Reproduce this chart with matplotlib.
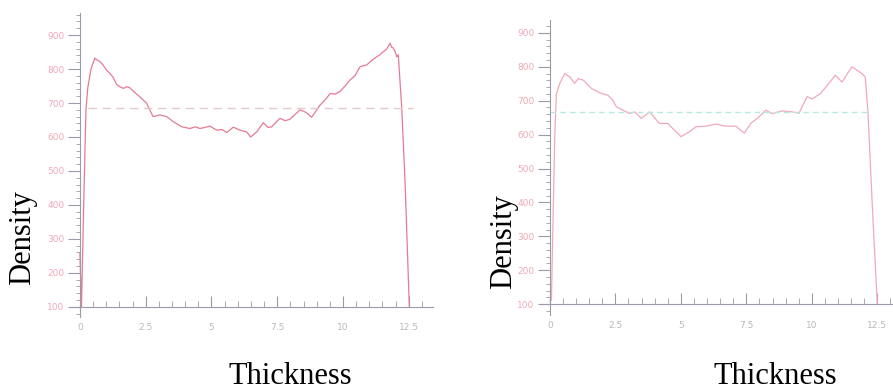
import matplotlib
matplotlib.use("Agg")
import matplotlib.pyplot as plt
from matplotlib.ticker import MultipleLocator

# left profile (thickness, density)
left_x = [0.0, 0.06, 0.15, 0.23, 0.3, 0.42, 0.57, 0.66, 0.76, 0.88, 1.01, 1.13, 1.26, 1.39, 1.52, 1.65,
          1.78, 1.9, 2.05, 2.28, 2.53, 2.78, 3.04, 3.29, 3.55, 3.87, 4.18, 4.4, 4.56, 4.75, 4.94, 5.2,
          5.4, 5.58, 5.83, 6.08, 6.34, 6.49, 6.72, 6.97, 7.15, 7.29, 7.6, 7.8, 7.98, 8.2, 8.37, 8.6,
          8.81, 9.13, 9.35, 9.51, 9.7, 9.89, 10.1, 10.27, 10.45, 10.65, 10.9, 11.1, 11.28, 11.4, 11.53,
          11.65, 11.79, 11.85, 11.91, 11.98, 12.04, 12.1, 12.23, 12.36, 12.52]
left_y = [260, 100, 420, 680, 745, 800, 832, 826, 822, 812, 797, 788, 776, 755, 748, 743,
          748, 745, 733, 718, 700, 660, 665, 660, 645, 630, 625, 630, 625, 628, 632, 620,
          622, 613, 629, 620, 615, 600, 615, 642, 628, 630, 655, 648, 652, 668, 680, 672,
          658, 694, 712, 728, 726, 734, 752, 768, 780, 807, 812, 826, 836, 842, 851,
          858, 876, 864, 862, 852, 836, 842, 688, 465, 100]
left_mean = 685

# right profile (thickness, density)
right_x = [0.0, 0.06, 0.19, 0.25, 0.38, 0.57, 0.66, 0.76, 0.95, 1.08, 1.27, 1.59, 1.91, 2.22, 2.4,
           2.54, 2.79, 3.05, 3.24, 3.49, 3.81, 4.18, 4.5, 4.82, 5.01, 5.32, 5.58, 5.96, 6.34,
           6.72, 7.1, 7.42, 7.67, 7.98, 8.24, 8.49, 8.87, 9.25, 9.51, 9.82, 10.01, 10.33, 10.65,
           10.9, 11.15, 11.53, 11.72, 11.91, 12.04, 12.14, 12.3, 12.5]
right_y = [110, 112, 604, 721, 751, 780, 775, 770, 751, 765, 761, 736, 723, 716, 702,
           682, 672, 662, 667, 648, 667, 633, 633, 608, 594, 608, 623, 625, 631,
           625, 625, 604, 633, 652, 672, 662, 670, 667, 663, 712, 705, 721, 751,
           775, 755, 800, 790, 780, 770, 672, 407, 100]
right_mean = 666

x_ticks = [0, 2.5, 5, 7.5, 10, 12.5]
x_ticklabels = ["0", "2.5", "5", "7.5", "10", "12.5"]
y_ticks = [100, 200, 300, 400, 500, 600, 700, 800, 900]

fig = plt.figure(figsize=(8.93, 3.9), dpi=100)

label_col = "#f2a8b8"
axis_col = "#9a9aaa"

panels = [
    # axes rect, xlim, ylim, x, y, mean, line colour, mean colour, mean span, dash
    ([72 / 893, 73 / 390, 361 / 893, 304 / 390], (-0.3, 13.42), (70, 965),
     left_x, left_y, left_mean, "#e77a93", "#e6c8cf", (0.3, 12.67), (0, (6, 4))),
    ([542 / 893, 75 / 390, 351 / 893, 295 / 390], (-0.3, 13.1), (68, 938),
     right_x, right_y, right_mean, "#f1a9b9", "#b4eae2", (0.0, 12.2), (0, (4, 3))),
]

for rect, xl, yl, xs, ys, mean, lc, mc, span, ls in panels:
    ax = fig.add_axes(rect)
    ax.plot(xs, ys, color=lc, lw=0.9)
    ax.plot(list(span), [mean, mean], color=mc, lw=1.0, linestyle=ls)
    ax.set_xlim(*xl)
    ax.set_ylim(*yl)
    for s in ["top", "right"]:
        ax.spines[s].set_visible(False)
    ax.spines["left"].set_position(("data", 0))
    ax.spines["bottom"].set_position(("data", 100))
    ax.spines["left"].set_color(axis_col)
    ax.spines["bottom"].set_color(axis_col)
    ax.set_xticks(x_ticks)
    ax.set_xticklabels(x_ticklabels)
    ax.set_yticks(y_ticks)
    ax.xaxis.set_minor_locator(MultipleLocator(0.5))
    ax.yaxis.set_minor_locator(MultipleLocator(20))
    ax.tick_params(axis="x", which="major", direction="in", length=8, color=axis_col,
                   labelcolor="#b8b8c0", labelsize=6.5, pad=12)
    ax.tick_params(axis="x", which="minor", direction="in", length=4, color=axis_col)
    ax.tick_params(axis="y", which="major", direction="out", length=9, color=axis_col,
                   labelcolor=label_col, labelsize=6.5, pad=2)
    ax.tick_params(axis="y", which="minor", direction="out", length=3, color=axis_col)
    ax.patch.set_alpha(0)

# axis titles laid over the scanned plots
fig.text(23 / 893, 1 - 238 / 390, "Density", rotation=90, ha="center", va="center",
         family="Liberation Serif", fontsize=22)
fig.text(504 / 893, 1 - 242 / 390, "Density", rotation=90, ha="center", va="center",
         family="Liberation Serif", fontsize=22)
fig.text(290 / 893, 1 - 377 / 390, "Thickness", ha="center", va="center",
         family="Liberation Serif", fontsize=22)
fig.text(775 / 893, 1 - 377 / 390, "Thickness", ha="center", va="center",
         family="Liberation Serif", fontsize=22)

fig.savefig("out.png", dpi=100)
